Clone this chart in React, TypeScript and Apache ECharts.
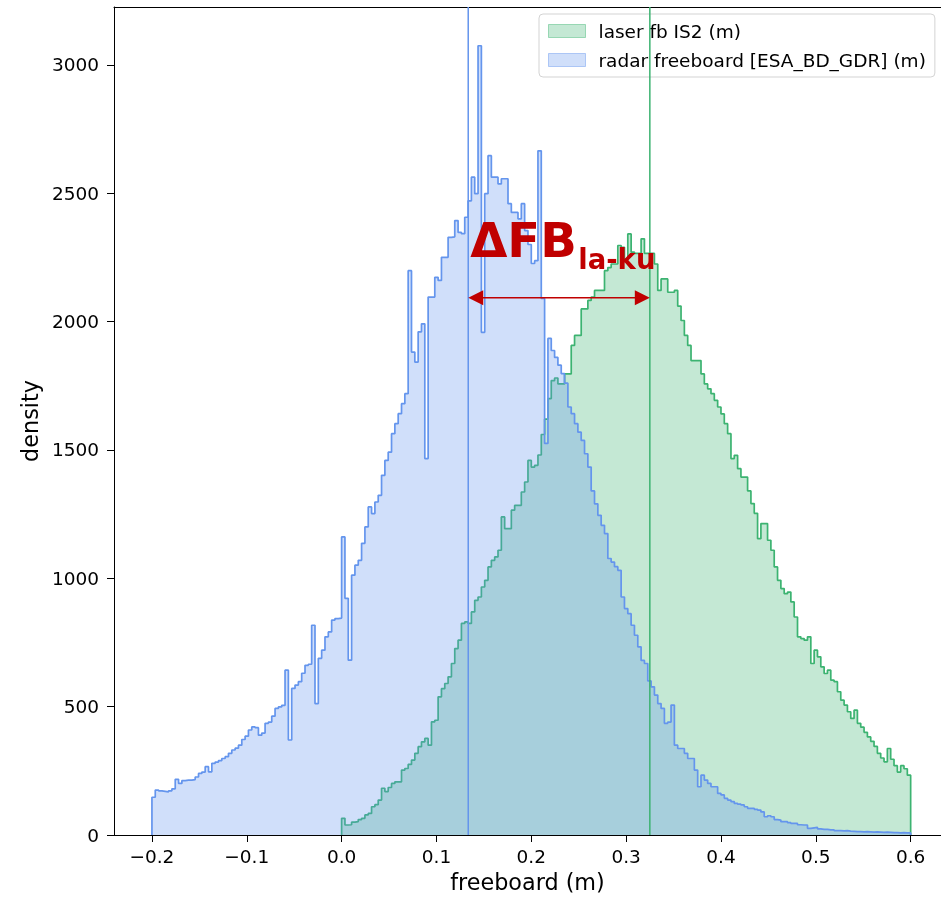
import React, { useEffect, useRef } from "react";
import * as echarts from "echarts";

// ---- data ----
const radarStart = -0.2; // first bin edge of the radar histogram
const laserStart = 0.0; // first bin edge of the laser histogram
const binWidth = 0.8 / 228;

const radarCounts = [
  147, 175, 172, 170, 168, 172, 180, 217, 201, 212,
  214, 214, 216, 226, 240, 245, 266, 246, 279, 284,
  290, 298, 305, 318, 331, 338, 350, 372, 385, 409,
  421, 418, 389, 397, 435, 440, 463, 493, 499, 505,
  642, 370, 571, 584, 597, 630, 661, 665, 817, 512,
  688, 720, 772, 791, 837, 843, 845, 1161, 922, 681,
  1012, 1051, 1070, 1136, 1200, 1278, 1252, 1297, 1323, 1401,
  1459, 1491, 1563, 1602, 1641, 1680, 1719, 2198, 1881, 1842,
  1960, 1991, 1466, 2095, 2095, 2172, 2160, 2250, 2250, 2328,
  2330, 2393, 2347, 2342, 2406, 2470, 2562, 2498, 3074, 1958,
  2498, 2646, 2562, 2562, 2536, 2556, 2556, 2459, 2425, 2425,
  2400, 2459, 2354, 2300, 2226, 2237, 2665, 2090, 1525, 1934,
  1887, 1860, 1830, 1797, 1760, 1667, 1641, 1602, 1569, 1537,
  1485, 1433, 1340, 1290, 1245, 1206, 1174, 1077, 1063, 1045,
  1031, 927, 882, 862, 817, 778, 733, 680, 668, 600,
  577, 545, 512, 493, 435, 440, 506, 350, 337, 337,
  318, 298, 298, 253, 188, 233, 214, 201, 188, 188,
  162, 156, 143, 136, 130, 123, 120, 117, 110, 104,
  104, 100, 97, 90, 71, 75, 71, 60, 58, 52,
  52, 48, 45, 45, 40, 39, 39, 26, 28, 30,
  24, 22, 22, 20, 20, 17, 17, 16, 17, 15,
  14, 13, 13, 12, 13, 12, 11, 12, 11, 10,
  11, 10, 9, 9, 8, 9, 8, 8,
];

const laserCounts = [
  65, 39, 40, 50, 52, 60, 65, 78, 84, 110,
  118, 136, 182, 169, 185, 201, 207, 207, 253, 259,
  275, 292, 318, 344, 363, 376, 350, 441, 447, 538,
  570, 590, 616, 668, 726, 759, 824, 830, 824, 869,
  914, 927, 966, 992, 1044, 1070, 1083, 1109, 1239, 1193,
  1193, 1265, 1284, 1284, 1336, 1375, 1459, 1433, 1440, 1480,
  1560, 1620, 1700, 1770, 1780, 1757, 1757, 1796, 1796, 1907,
  1946, 1946, 2049, 2049, 2082, 2095, 2121, 2121, 2121, 2198,
  2210, 2224, 2224, 2296, 2289, 2244, 2341, 2270, 2265, 2265,
  2322, 2265, 2265, 2265, 2224, 2121, 2166, 2166, 2114, 2114,
  2121, 2060, 2004, 1946, 1907, 1848, 1848, 1848, 1796, 1757,
  1738, 1719, 1693, 1667, 1640, 1602, 1563, 1466, 1479, 1427,
  1394, 1394, 1340, 1291, 1253, 1154, 1213, 1213, 1148, 1109,
  1044, 992, 960, 940, 946, 908, 849, 772, 765, 759,
  772, 668, 720, 694, 655, 629, 642, 603, 597, 558,
  525, 506, 480, 454, 486, 435, 420, 400, 382, 365,
  345, 318, 300, 285, 337, 295, 270, 245, 270, 258,
  233,
];

const radarMean = 0.1335;
const laserMean = 0.325;
const arrowLevel = 2093;
const yMax = 3225;

const xTicks = [-0.2, -0.1, 0, 0.1, 0.2, 0.3, 0.4, 0.5, 0.6];
const yTicks = [0, 500, 1000, 1500, 2000, 2500, 3000];

const seriesNames = ["laser fb IS2 (m)", "radar freeboard [ESA_BD_GDR] (m)"];
const annotationMain = "ΔFB";
const annotationSub = "la-ku";

// ---- styles ----
const FONT = "DejaVu Sans";
const GREEN = "#3cb371";
const BLUE = "#6495ed";
const GREEN_FILL = "rgba(60,179,113,0.3)";
const BLUE_FILL = "rgba(100,149,237,0.3)";
const RED = "#c00000";

function stepPoints(start: number, counts: number[]): number[][] {
  const pts: number[][] = [[start, 0]];
  counts.forEach((c, i) => {
    pts.push([start + i * binWidth, c]);
    pts.push([start + (i + 1) * binWidth, c]);
  });
  pts.push([start + counts.length * binWidth, 0]);
  return pts;
}

function fmtX(v: number): string {
  const s = Math.abs(v).toFixed(1);
  return v < -1e-9 ? "\u2212" + s : s;
}

export default function App() {
  const ref = useRef<HTMLDivElement>(null);

  useEffect(() => {
    if (!ref.current) return;
    document.body.style.margin = "0";
    const chart = echarts.init(ref.current, undefined, { renderer: "svg" });

    const axisCommon = {
      min: -0.24,
      max: 0.632,
      type: "value" as const,
      splitLine: { show: false },
    };

    const meanSeries = (name: string, x: number, color: string, z: number) => ({
      name,
      type: "line",
      data: [
        [x, 0],
        [x, yMax],
      ],
      showSymbol: false,
      symbol: "none",
      silent: true,
      lineStyle: { color, width: 1.5 },
      z,
    });

    chart.setOption({
      animation: false,
      grid: { left: 114, top: 7, right: 0, bottom: 63 },
      xAxis: [
        {
          ...axisCommon,
          position: "bottom",
          name: "freeboard (m)",
          nameLocation: "middle",
          nameGap: 36,
          nameTextStyle: { fontFamily: FONT, fontSize: 22.3, color: "#000" },
          axisLine: { show: true, onZero: false, lineStyle: { color: "#000", width: 1 } },
          axisTick: { show: true, length: 7, customValues: xTicks, lineStyle: { color: "#000" } },
          axisLabel: {
            customValues: xTicks,
            formatter: fmtX,
            margin: 12,
            fontFamily: FONT,
            fontSize: 18.5,
            color: "#000",
          },
        },
        {
          ...axisCommon,
          position: "top",
          axisLine: { show: true, onZero: false, lineStyle: { color: "#000", width: 1 } },
          axisTick: { show: false },
          axisLabel: { show: false },
        },
      ],
      yAxis: {
        type: "value",
        min: 0,
        max: yMax,
        splitLine: { show: false },
        name: "density",
        nameLocation: "middle",
        nameGap: 62,
        nameTextStyle: { fontFamily: FONT, fontSize: 22.3, color: "#000" },
        axisLine: { show: true, onZero: false, lineStyle: { color: "#000", width: 1 } },
        axisTick: { show: true, length: 7, customValues: yTicks, lineStyle: { color: "#000" } },
        axisLabel: {
          customValues: yTicks,
          formatter: (v: number) => String(v),
          margin: 15,
          fontFamily: FONT,
          fontSize: 18.5,
          color: "#000",
        },
      },
      legend: {
        orient: "vertical",
        left: 539,
        top: 14,
        padding: [6.5, 9, 6.5, 9],
        itemWidth: 37,
        itemHeight: 13,
        itemGap: 8,
        icon: "rect",
        backgroundColor: "rgba(255,255,255,0.8)",
        borderColor: "#d3d3d3",
        borderWidth: 1,
        borderRadius: 4,
        selectedMode: false,
        textStyle: {
          fontFamily: FONT,
          fontSize: 18.5,
          color: "#000",
          lineHeight: 21,
          padding: [0, 0, 0, 8],
        },
        data: [
          {
            name: seriesNames[0],
            itemStyle: { color: GREEN_FILL, borderColor: "rgba(60,179,113,0.45)", borderWidth: 1 },
          },
          {
            name: seriesNames[1],
            itemStyle: { color: BLUE_FILL, borderColor: "rgba(100,149,237,0.45)", borderWidth: 1 },
          },
        ],
      },
      series: [
        {
          name: seriesNames[0],
          type: "line",
          data: stepPoints(laserStart, laserCounts),
          showSymbol: false,
          symbol: "none",
          lineStyle: { color: GREEN, width: 1.7 },
          itemStyle: { color: GREEN_FILL },
          areaStyle: { color: GREEN_FILL, opacity: 1, origin: "start" },
          silent: true,
          z: 2,
        },
        {
          name: seriesNames[1],
          type: "line",
          data: stepPoints(radarStart, radarCounts),
          showSymbol: false,
          symbol: "none",
          lineStyle: { color: BLUE, width: 1.7 },
          itemStyle: { color: BLUE_FILL },
          areaStyle: { color: BLUE_FILL, opacity: 1, origin: "start" },
          silent: true,
          z: 3,
        },
        meanSeries("laser mean", laserMean, GREEN, 4),
        meanSeries("radar mean", radarMean, BLUE, 4),
      ],
    });

    // annotation: double-headed arrow between the two means, placed through the axes
    const p1 = chart.convertToPixel({ xAxisIndex: 0, yAxisIndex: 0 }, [radarMean, arrowLevel]) as number[];
    const p2 = chart.convertToPixel({ xAxisIndex: 0, yAxisIndex: 0 }, [laserMean, arrowLevel]) as number[];
    const head = 15;
    const half = 7.5;
    chart.setOption({
      graphic: [
        {
          type: "line",
          z: 100,
          silent: true,
          shape: { x1: p1[0] + head - 1, y1: p1[1], x2: p2[0] - head + 1, y2: p2[1] },
          style: { stroke: RED, lineWidth: 1.5 },
        },
        {
          type: "polygon",
          z: 100,
          silent: true,
          shape: { points: [[p1[0], p1[1]], [p1[0] + head, p1[1] - half], [p1[0] + head, p1[1] + half]] },
          style: { fill: RED },
        },
        {
          type: "polygon",
          z: 100,
          silent: true,
          shape: { points: [[p2[0], p2[1]], [p2[0] - head, p2[1] - half], [p2[0] - head, p2[1] + half]] },
          style: { fill: RED },
        },
        {
          type: "text",
          z: 100,
          silent: true,
          x: p1[0] + 2,
          y: p1[1] - 58,
          style: {
            text: annotationMain,
            fontFamily: FONT,
            fontWeight: "bold",
            fontSize: 48,
            fill: RED,
            align: "left",
            verticalAlign: "middle",
          },
        },
        {
          type: "text",
          z: 100,
          silent: true,
          x: p1[0] + 110,
          y: p1[1] - 39,
          style: {
            text: annotationSub,
            fontFamily: FONT,
            fontWeight: "bold",
            fontSize: 27.5,
            fill: RED,
            align: "left",
            verticalAlign: "middle",
          },
        },
      ],
    });

    return () => chart.dispose();
  }, []);

  return (
    <div
      ref={ref}
      style={{ position: "fixed", left: 0, top: 0, width: 941, height: 898 }}
    />
  );
}
